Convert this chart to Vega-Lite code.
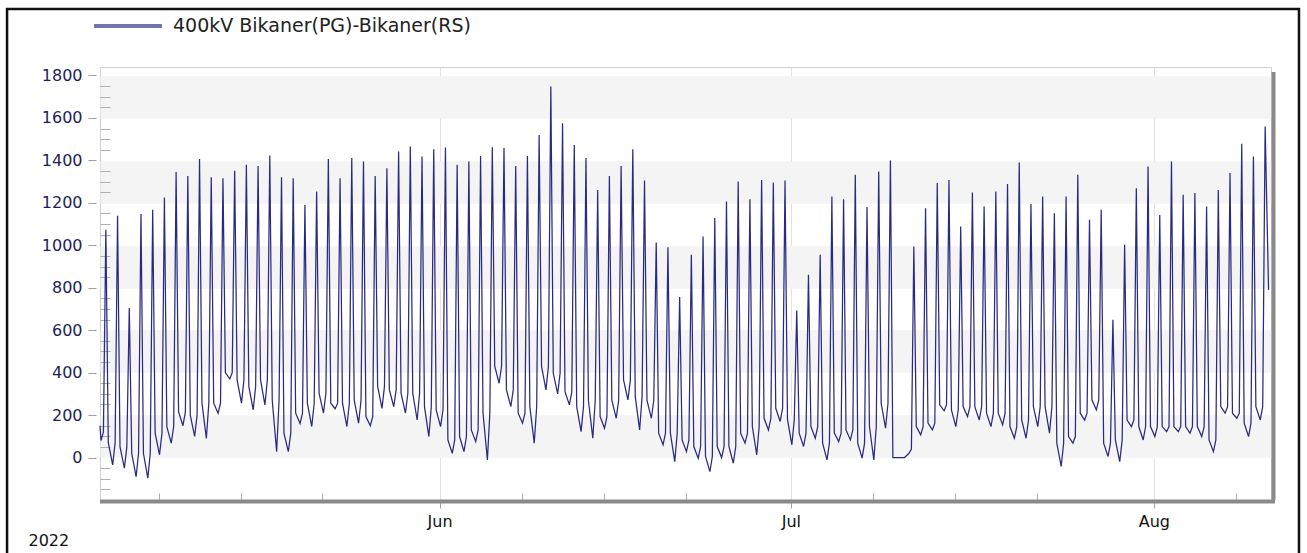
{
"$schema":"https://vega.github.io/schema/vega-lite/v6.json",
"width":1171,"height":433,
"autosize":"none",
"padding":{"left":100,"top":67,"right":36,"bottom":53},
"background":"white",
"config":{"view":{"stroke":"#cfcfcf","strokeWidth":1},"font":"DejaVu Sans","axis":{"domain":false,"labelFont":"DejaVu Sans","titleFont":"DejaVu Sans"}},
"resolve":{"axis":{"x":"independent","y":"independent"}},
"layer":[
{"data":{"values":[{}]},"mark":{"type":"point","opacity":0},
 "encoding":{
  "x":{"datum":{"year":2022,"month":6,"date":1},"type":"temporal","scale":{"domain":[{"year":2022,"month":5,"date":3},{"year":2022,"month":8,"date":11}]},"axis":null},
  "y":{"datum":0,"type":"quantitative","scale":{"domain":[-200,1840],"nice":false,"zero":false},"axis":{"orient":"left","values":[100,500,900,1300,1700],"grid":true,"gridWidth":42.45,"gridColor":"#f4f4f4","ticks":false,"labels":false,"domain":false,"title":null}}}},
{"data":{"values":[{}]},"mark":{"type":"point","opacity":0},
 "encoding":{
  "x":{"datum":{"year":2022,"month":6,"date":1},"type":"temporal","scale":{"domain":[{"year":2022,"month":5,"date":3},{"year":2022,"month":8,"date":11}]},"axis":{"orient":"bottom","values":[{"year":2022,"month":5,"date":8},{"year":2022,"month":5,"date":15},{"year":2022,"month":5,"date":22},{"year":2022,"month":6,"date":8},{"year":2022,"month":6,"date":15},{"year":2022,"month":6,"date":22},{"year":2022,"month":7,"date":8},{"year":2022,"month":7,"date":15},{"year":2022,"month":7,"date":22},{"year":2022,"month":8,"date":8}],"tickSize":-7,"tickColor":"#b0b0b0","labels":false,"grid":false,"title":null,"domain":false}},
  "y":{"datum":0,"type":"quantitative","scale":{"domain":[-200,1840],"nice":false,"zero":false},"axis":{"orient":"left","values":[-150,-100,-50,50,100,150,250,300,350,450,500,550,650,700,750,850,900,950,1050,1100,1150,1250,1300,1350,1450,1500,1550,1650,1700,1750],"tickSize":-10,"tickColor":"#b0b0b0","labels":false,"grid":false,"title":null,"domain":false}}}},
{"data":{"values":[{}]},"mark":{"type":"rule","color":"#8a8a8a","strokeWidth":4,"yOffset":1.5,"xOffset":4},
 "encoding":{"y":{"datum":-200,"type":"quantitative","scale":{"domain":[-200,1840],"nice":false,"zero":false},"axis":null}}},
{"data":{"values":[{}]},"mark":{"type":"rule","color":"#8a8a8a","strokeWidth":4,"xOffset":2.5,"yOffset":5},
 "encoding":{"x":{"datum":{"year":2022,"month":8,"date":11},"type":"temporal","scale":{"domain":[{"year":2022,"month":5,"date":3},{"year":2022,"month":8,"date":11}]},"axis":null}}},
{"data":{"values":[{}]},"mark":{"type":"rect","filled":false,"stroke":"#111111","strokeWidth":2.5},
 "encoding":{
  "x":{"datum":{"year":2022,"month":4,"date":25,"hours":1,"minutes":30},"type":"temporal","scale":{"domain":[{"year":2022,"month":5,"date":3},{"year":2022,"month":8,"date":11}]},"axis":null},
  "x2":{"datum":{"year":2022,"month":8,"date":13,"hours":9,"minutes":20}},
  "y":{"datum":2113,"type":"quantitative","scale":{"domain":[-200,1840],"nice":false,"zero":false},"axis":null},
  "y2":{"datum":-480}}},
{"data":{"values":[
{"t":"2022-05-03T00:00","v":150},
{"t":"2022-05-03T02:00","v":80},{"t":"2022-05-03T07:00","v":120},{"t":"2022-05-03T12:00","v":1073},{"t":"2022-05-03T17:00","v":70},
{"t":"2022-05-04T02:00","v":-35},{"t":"2022-05-04T07:00","v":70},{"t":"2022-05-04T12:00","v":1139},{"t":"2022-05-04T17:00","v":50},
{"t":"2022-05-05T02:00","v":-50},{"t":"2022-05-05T07:00","v":50},{"t":"2022-05-05T12:00","v":704},{"t":"2022-05-05T17:00","v":20},
{"t":"2022-05-06T02:00","v":-90},{"t":"2022-05-06T07:00","v":20},{"t":"2022-05-06T12:00","v":1147},{"t":"2022-05-06T17:00","v":20},
{"t":"2022-05-07T02:00","v":-97},{"t":"2022-05-07T07:00","v":20},{"t":"2022-05-07T12:00","v":1167},{"t":"2022-05-07T17:00","v":115},
{"t":"2022-05-08T02:00","v":13},{"t":"2022-05-08T07:00","v":115},{"t":"2022-05-08T12:00","v":1225},{"t":"2022-05-08T17:00","v":146},
{"t":"2022-05-09T02:00","v":68},{"t":"2022-05-09T07:00","v":146},{"t":"2022-05-09T12:00","v":1345},{"t":"2022-05-09T17:00","v":215},
{"t":"2022-05-10T02:00","v":150},{"t":"2022-05-10T07:00","v":215},{"t":"2022-05-10T12:00","v":1327},{"t":"2022-05-10T17:00","v":200},
{"t":"2022-05-11T02:00","v":100},{"t":"2022-05-11T07:00","v":200},{"t":"2022-05-11T12:00","v":1406},{"t":"2022-05-11T17:00","v":256},
{"t":"2022-05-12T02:00","v":90},{"t":"2022-05-12T07:00","v":256},{"t":"2022-05-12T12:00","v":1321},{"t":"2022-05-12T17:00","v":256},
{"t":"2022-05-13T02:00","v":209},{"t":"2022-05-13T07:00","v":256},{"t":"2022-05-13T12:00","v":1316},{"t":"2022-05-13T17:00","v":400},
{"t":"2022-05-14T02:00","v":370},{"t":"2022-05-14T07:00","v":400},{"t":"2022-05-14T12:00","v":1351},{"t":"2022-05-14T17:00","v":366},
{"t":"2022-05-15T02:00","v":256},{"t":"2022-05-15T07:00","v":366},{"t":"2022-05-15T12:00","v":1379},{"t":"2022-05-15T17:00","v":335},
{"t":"2022-05-16T02:00","v":225},{"t":"2022-05-16T07:00","v":335},{"t":"2022-05-16T12:00","v":1374},{"t":"2022-05-16T17:00","v":366},
{"t":"2022-05-17T02:00","v":248},{"t":"2022-05-17T07:00","v":366},{"t":"2022-05-17T12:00","v":1423},{"t":"2022-05-17T17:00","v":270},
{"t":"2022-05-18T02:00","v":28},{"t":"2022-05-18T07:00","v":270},{"t":"2022-05-18T12:00","v":1321},{"t":"2022-05-18T17:00","v":115},
{"t":"2022-05-19T02:00","v":28},{"t":"2022-05-19T07:00","v":115},{"t":"2022-05-19T12:00","v":1316},{"t":"2022-05-19T17:00","v":209},
{"t":"2022-05-20T02:00","v":160},{"t":"2022-05-20T07:00","v":209},{"t":"2022-05-20T12:00","v":1190},{"t":"2022-05-20T17:00","v":256},
{"t":"2022-05-21T02:00","v":146},{"t":"2022-05-21T07:00","v":256},{"t":"2022-05-21T12:00","v":1253},{"t":"2022-05-21T17:00","v":303},
{"t":"2022-05-22T02:00","v":209},{"t":"2022-05-22T07:00","v":303},{"t":"2022-05-22T12:00","v":1406},{"t":"2022-05-22T17:00","v":256},
{"t":"2022-05-23T02:00","v":230},{"t":"2022-05-23T07:00","v":256},{"t":"2022-05-23T12:00","v":1316},{"t":"2022-05-23T17:00","v":256},
{"t":"2022-05-24T02:00","v":146},{"t":"2022-05-24T07:00","v":256},{"t":"2022-05-24T12:00","v":1411},{"t":"2022-05-24T17:00","v":270},
{"t":"2022-05-25T02:00","v":162},{"t":"2022-05-25T07:00","v":270},{"t":"2022-05-25T12:00","v":1395},{"t":"2022-05-25T17:00","v":193},
{"t":"2022-05-26T02:00","v":150},{"t":"2022-05-26T07:00","v":193},{"t":"2022-05-26T12:00","v":1327},{"t":"2022-05-26T17:00","v":335},
{"t":"2022-05-27T02:00","v":232},{"t":"2022-05-27T07:00","v":335},{"t":"2022-05-27T12:00","v":1363},{"t":"2022-05-27T17:00","v":320},
{"t":"2022-05-28T02:00","v":240},{"t":"2022-05-28T07:00","v":320},{"t":"2022-05-28T12:00","v":1442},{"t":"2022-05-28T17:00","v":303},
{"t":"2022-05-29T02:00","v":209},{"t":"2022-05-29T07:00","v":303},{"t":"2022-05-29T12:00","v":1465},{"t":"2022-05-29T17:00","v":303},
{"t":"2022-05-30T02:00","v":177},{"t":"2022-05-30T07:00","v":303},{"t":"2022-05-30T12:00","v":1418},{"t":"2022-05-30T17:00","v":240},
{"t":"2022-05-31T02:00","v":99},{"t":"2022-05-31T07:00","v":240},{"t":"2022-05-31T12:00","v":1453},{"t":"2022-05-31T17:00","v":225},
{"t":"2022-06-01T02:00","v":146},{"t":"2022-06-01T07:00","v":225},{"t":"2022-06-01T12:00","v":1461},{"t":"2022-06-01T17:00","v":83},
{"t":"2022-06-02T02:00","v":20},{"t":"2022-06-02T07:00","v":83},{"t":"2022-06-02T12:00","v":1379},{"t":"2022-06-02T17:00","v":99},
{"t":"2022-06-03T02:00","v":28},{"t":"2022-06-03T07:00","v":99},{"t":"2022-06-03T12:00","v":1395},{"t":"2022-06-03T17:00","v":130},
{"t":"2022-06-04T02:00","v":75},{"t":"2022-06-04T07:00","v":130},{"t":"2022-06-04T12:00","v":1421},{"t":"2022-06-04T17:00","v":209},
{"t":"2022-06-05T02:00","v":-11},{"t":"2022-06-05T07:00","v":209},{"t":"2022-06-05T12:00","v":1462},{"t":"2022-06-05T17:00","v":430},
{"t":"2022-06-06T02:00","v":350},{"t":"2022-06-06T07:00","v":430},{"t":"2022-06-06T12:00","v":1458},{"t":"2022-06-06T17:00","v":320},
{"t":"2022-06-07T02:00","v":240},{"t":"2022-06-07T07:00","v":320},{"t":"2022-06-07T12:00","v":1374},{"t":"2022-06-07T17:00","v":209},
{"t":"2022-06-08T02:00","v":162},{"t":"2022-06-08T07:00","v":209},{"t":"2022-06-08T12:00","v":1421},{"t":"2022-06-08T17:00","v":240},
{"t":"2022-06-09T02:00","v":68},{"t":"2022-06-09T07:00","v":240},{"t":"2022-06-09T12:00","v":1520},{"t":"2022-06-09T17:00","v":429},
{"t":"2022-06-10T02:00","v":319},{"t":"2022-06-10T07:00","v":429},{"t":"2022-06-10T12:00","v":1748},{"t":"2022-06-10T17:00","v":397},
{"t":"2022-06-11T02:00","v":300},{"t":"2022-06-11T07:00","v":397},{"t":"2022-06-11T12:00","v":1575},{"t":"2022-06-11T17:00","v":310},
{"t":"2022-06-12T02:00","v":248},{"t":"2022-06-12T07:00","v":310},{"t":"2022-06-12T12:00","v":1473},{"t":"2022-06-12T17:00","v":240},
{"t":"2022-06-13T02:00","v":122},{"t":"2022-06-13T07:00","v":240},{"t":"2022-06-13T12:00","v":1411},{"t":"2022-06-13T17:00","v":270},
{"t":"2022-06-14T02:00","v":91},{"t":"2022-06-14T07:00","v":270},{"t":"2022-06-14T12:00","v":1261},{"t":"2022-06-14T17:00","v":193},
{"t":"2022-06-15T02:00","v":138},{"t":"2022-06-15T07:00","v":193},{"t":"2022-06-15T12:00","v":1327},{"t":"2022-06-15T17:00","v":270},
{"t":"2022-06-16T02:00","v":185},{"t":"2022-06-16T07:00","v":270},{"t":"2022-06-16T12:00","v":1374},{"t":"2022-06-16T17:00","v":366},
{"t":"2022-06-17T02:00","v":272},{"t":"2022-06-17T07:00","v":366},{"t":"2022-06-17T12:00","v":1453},{"t":"2022-06-17T17:00","v":287},
{"t":"2022-06-18T02:00","v":130},{"t":"2022-06-18T07:00","v":287},{"t":"2022-06-18T12:00","v":1305},{"t":"2022-06-18T17:00","v":270},
{"t":"2022-06-19T02:00","v":185},{"t":"2022-06-19T07:00","v":270},{"t":"2022-06-19T12:00","v":1013},{"t":"2022-06-19T17:00","v":115},
{"t":"2022-06-20T02:00","v":60},{"t":"2022-06-20T07:00","v":115},{"t":"2022-06-20T12:00","v":991},{"t":"2022-06-20T17:00","v":115},
{"t":"2022-06-21T02:00","v":-19},{"t":"2022-06-21T07:00","v":115},{"t":"2022-06-21T12:00","v":756},{"t":"2022-06-21T17:00","v":83},
{"t":"2022-06-22T02:00","v":28},{"t":"2022-06-22T07:00","v":83},{"t":"2022-06-22T12:00","v":955},{"t":"2022-06-22T17:00","v":52},
{"t":"2022-06-23T02:00","v":-3},{"t":"2022-06-23T07:00","v":52},{"t":"2022-06-23T12:00","v":1041},{"t":"2022-06-23T17:00","v":5},
{"t":"2022-06-24T02:00","v":-66},{"t":"2022-06-24T07:00","v":5},{"t":"2022-06-24T12:00","v":1128},{"t":"2022-06-24T17:00","v":52},
{"t":"2022-06-25T02:00","v":0},{"t":"2022-06-25T07:00","v":52},{"t":"2022-06-25T12:00","v":1206},{"t":"2022-06-25T17:00","v":52},
{"t":"2022-06-26T02:00","v":-27},{"t":"2022-06-26T07:00","v":52},{"t":"2022-06-26T12:00","v":1300},{"t":"2022-06-26T17:00","v":115},
{"t":"2022-06-27T02:00","v":68},{"t":"2022-06-27T07:00","v":115},{"t":"2022-06-27T12:00","v":1217},{"t":"2022-06-27T17:00","v":146},
{"t":"2022-06-28T02:00","v":13},{"t":"2022-06-28T07:00","v":146},{"t":"2022-06-28T12:00","v":1308},{"t":"2022-06-28T17:00","v":185},
{"t":"2022-06-29T02:00","v":130},{"t":"2022-06-29T07:00","v":185},{"t":"2022-06-29T12:00","v":1296},{"t":"2022-06-29T17:00","v":232},
{"t":"2022-06-30T02:00","v":170},{"t":"2022-06-30T07:00","v":232},{"t":"2022-06-30T12:00","v":1305},{"t":"2022-06-30T17:00","v":180},
{"t":"2022-07-01T02:00","v":60},{"t":"2022-07-01T07:00","v":180},{"t":"2022-07-01T12:00","v":693},{"t":"2022-07-01T17:00","v":115},
{"t":"2022-07-02T02:00","v":52},{"t":"2022-07-02T07:00","v":115},{"t":"2022-07-02T12:00","v":861},{"t":"2022-07-02T17:00","v":146},
{"t":"2022-07-03T02:00","v":91},{"t":"2022-07-03T07:00","v":146},{"t":"2022-07-03T12:00","v":955},{"t":"2022-07-03T17:00","v":68},
{"t":"2022-07-04T02:00","v":-11},{"t":"2022-07-04T07:00","v":68},{"t":"2022-07-04T12:00","v":1230},{"t":"2022-07-04T17:00","v":115},
{"t":"2022-07-05T02:00","v":75},{"t":"2022-07-05T07:00","v":115},{"t":"2022-07-05T12:00","v":1217},{"t":"2022-07-05T17:00","v":130},
{"t":"2022-07-06T02:00","v":83},{"t":"2022-07-06T07:00","v":130},{"t":"2022-07-06T12:00","v":1332},{"t":"2022-07-06T17:00","v":68},
{"t":"2022-07-07T02:00","v":-3},{"t":"2022-07-07T07:00","v":68},{"t":"2022-07-07T12:00","v":1180},{"t":"2022-07-07T17:00","v":146},
{"t":"2022-07-08T02:00","v":-11},{"t":"2022-07-08T07:00","v":146},{"t":"2022-07-08T12:00","v":1348},{"t":"2022-07-08T17:00","v":256},
{"t":"2022-07-09T02:00","v":138},{"t":"2022-07-09T07:00","v":256},{"t":"2022-07-09T12:00","v":1400},{"t":"2022-07-09T17:00","v":0},
{"t":"2022-07-10T02:00","v":0},{"t":"2022-07-10T07:00","v":0},{"t":"2022-07-10T12:00","v":0},{"t":"2022-07-10T17:00","v":0},
{"t":"2022-07-11T02:00","v":20},{"t":"2022-07-11T07:00","v":40},{"t":"2022-07-11T12:00","v":994},{"t":"2022-07-11T17:00","v":146},
{"t":"2022-07-12T02:00","v":107},{"t":"2022-07-12T07:00","v":146},{"t":"2022-07-12T12:00","v":1175},{"t":"2022-07-12T17:00","v":162},
{"t":"2022-07-13T02:00","v":130},{"t":"2022-07-13T07:00","v":162},{"t":"2022-07-13T12:00","v":1293},{"t":"2022-07-13T17:00","v":248},
{"t":"2022-07-14T02:00","v":220},{"t":"2022-07-14T07:00","v":248},{"t":"2022-07-14T12:00","v":1308},{"t":"2022-07-14T17:00","v":225},
{"t":"2022-07-15T02:00","v":146},{"t":"2022-07-15T07:00","v":225},{"t":"2022-07-15T12:00","v":1088},{"t":"2022-07-15T17:00","v":240},
{"t":"2022-07-16T02:00","v":193},{"t":"2022-07-16T07:00","v":240},{"t":"2022-07-16T12:00","v":1249},{"t":"2022-07-16T17:00","v":240},
{"t":"2022-07-17T02:00","v":177},{"t":"2022-07-17T07:00","v":240},{"t":"2022-07-17T12:00","v":1183},{"t":"2022-07-17T17:00","v":209},
{"t":"2022-07-18T02:00","v":146},{"t":"2022-07-18T07:00","v":209},{"t":"2022-07-18T12:00","v":1253},{"t":"2022-07-18T17:00","v":209},
{"t":"2022-07-19T02:00","v":154},{"t":"2022-07-19T07:00","v":209},{"t":"2022-07-19T12:00","v":1289},{"t":"2022-07-19T17:00","v":146},
{"t":"2022-07-20T02:00","v":91},{"t":"2022-07-20T07:00","v":146},{"t":"2022-07-20T12:00","v":1390},{"t":"2022-07-20T17:00","v":177},
{"t":"2022-07-21T02:00","v":91},{"t":"2022-07-21T07:00","v":177},{"t":"2022-07-21T12:00","v":1195},{"t":"2022-07-21T17:00","v":240},
{"t":"2022-07-22T02:00","v":146},{"t":"2022-07-22T07:00","v":240},{"t":"2022-07-22T12:00","v":1230},{"t":"2022-07-22T17:00","v":240},
{"t":"2022-07-23T02:00","v":115},{"t":"2022-07-23T07:00","v":240},{"t":"2022-07-23T12:00","v":1151},{"t":"2022-07-23T17:00","v":68},
{"t":"2022-07-24T02:00","v":-42},{"t":"2022-07-24T07:00","v":68},{"t":"2022-07-24T12:00","v":1230},{"t":"2022-07-24T17:00","v":99},
{"t":"2022-07-25T02:00","v":68},{"t":"2022-07-25T07:00","v":99},{"t":"2022-07-25T12:00","v":1332},{"t":"2022-07-25T17:00","v":209},
{"t":"2022-07-26T02:00","v":177},{"t":"2022-07-26T07:00","v":209},{"t":"2022-07-26T12:00","v":1120},{"t":"2022-07-26T17:00","v":272},
{"t":"2022-07-27T02:00","v":225},{"t":"2022-07-27T07:00","v":272},{"t":"2022-07-27T12:00","v":1167},{"t":"2022-07-27T17:00","v":68},
{"t":"2022-07-28T02:00","v":5},{"t":"2022-07-28T07:00","v":68},{"t":"2022-07-28T12:00","v":649},{"t":"2022-07-28T17:00","v":83},
{"t":"2022-07-29T02:00","v":-19},{"t":"2022-07-29T07:00","v":83},{"t":"2022-07-29T12:00","v":1002},{"t":"2022-07-29T17:00","v":177},
{"t":"2022-07-30T02:00","v":146},{"t":"2022-07-30T07:00","v":177},{"t":"2022-07-30T12:00","v":1269},{"t":"2022-07-30T17:00","v":146},
{"t":"2022-07-31T02:00","v":83},{"t":"2022-07-31T07:00","v":146},{"t":"2022-07-31T12:00","v":1371},{"t":"2022-07-31T17:00","v":146},
{"t":"2022-08-01T02:00","v":99},{"t":"2022-08-01T07:00","v":146},{"t":"2022-08-01T12:00","v":1143},{"t":"2022-08-01T17:00","v":146},
{"t":"2022-08-02T02:00","v":122},{"t":"2022-08-02T07:00","v":146},{"t":"2022-08-02T12:00","v":1395},{"t":"2022-08-02T17:00","v":146},
{"t":"2022-08-03T02:00","v":122},{"t":"2022-08-03T07:00","v":146},{"t":"2022-08-03T12:00","v":1238},{"t":"2022-08-03T17:00","v":146},
{"t":"2022-08-04T02:00","v":115},{"t":"2022-08-04T07:00","v":146},{"t":"2022-08-04T12:00","v":1246},{"t":"2022-08-04T17:00","v":146},
{"t":"2022-08-05T02:00","v":99},{"t":"2022-08-05T07:00","v":146},{"t":"2022-08-05T12:00","v":1183},{"t":"2022-08-05T17:00","v":83},
{"t":"2022-08-06T02:00","v":28},{"t":"2022-08-06T07:00","v":83},{"t":"2022-08-06T12:00","v":1261},{"t":"2022-08-06T17:00","v":240},
{"t":"2022-08-07T02:00","v":209},{"t":"2022-08-07T07:00","v":240},{"t":"2022-08-07T12:00","v":1340},{"t":"2022-08-07T17:00","v":209},
{"t":"2022-08-08T02:00","v":185},{"t":"2022-08-08T07:00","v":209},{"t":"2022-08-08T12:00","v":1478},{"t":"2022-08-08T17:00","v":162},
{"t":"2022-08-09T02:00","v":99},{"t":"2022-08-09T07:00","v":162},{"t":"2022-08-09T12:00","v":1418},{"t":"2022-08-09T17:00","v":240},
{"t":"2022-08-10T02:00","v":177},{"t":"2022-08-10T07:00","v":240},{"t":"2022-08-10T12:00","v":1560},{"t":"2022-08-10T19:00","v":790}
]},
 "mark":{"type":"line","strokeWidth":1.25},
 "encoding":{
  "x":{"field":"t","type":"temporal","scale":{"domain":[{"year":2022,"month":5,"date":3},{"year":2022,"month":8,"date":11}]},
   "axis":{"orient":"bottom","values":[{"year":2022,"month":6,"date":1},{"year":2022,"month":7,"date":1},{"year":2022,"month":8,"date":1}],"format":"%b","tickSize":8,"tickColor":"#a0a0a0","grid":true,"gridColor":"#e2e2e2","labelFontSize":16,"labelColor":"#111111","labelPadding":5,"domain":false,
    "title":"2022","titleX":-72,"titleY":40,"titleAlign":"left","titleAnchor":"start","titleBaseline":"middle","titleFontSize":16,"titleFontWeight":"normal","titleColor":"#111111"}},
  "y":{"field":"v","type":"quantitative","scale":{"domain":[-200,1840],"nice":false,"zero":false},
   "axis":{"orient":"left","values":[0,200,400,600,800,1000,1200,1400,1600,1800],"format":"d","offset":4,"tickSize":8,"tickColor":"#a0a0a0","labelFontSize":16,"labelColor":"#1e1e5e","labelPadding":6,"grid":false,"title":null,"domain":false}},
  "color":{"datum":"400kV Bikaner(PG)-Bikaner(RS)","type":"nominal","scale":{"range":["#2a2a82"]},
   "legend":{"orient":"none","legendX":-8,"legendY":-77,"title":null,"symbolType":"stroke","symbolSize":4624,"symbolStrokeWidth":4,"symbolOpacity":0.65,"labelFont":"DejaVu Sans","labelFontSize":19,"labelColor":"#222222","labelOffset":9,"labelLimit":0,"padding":0}}}}
]
}
